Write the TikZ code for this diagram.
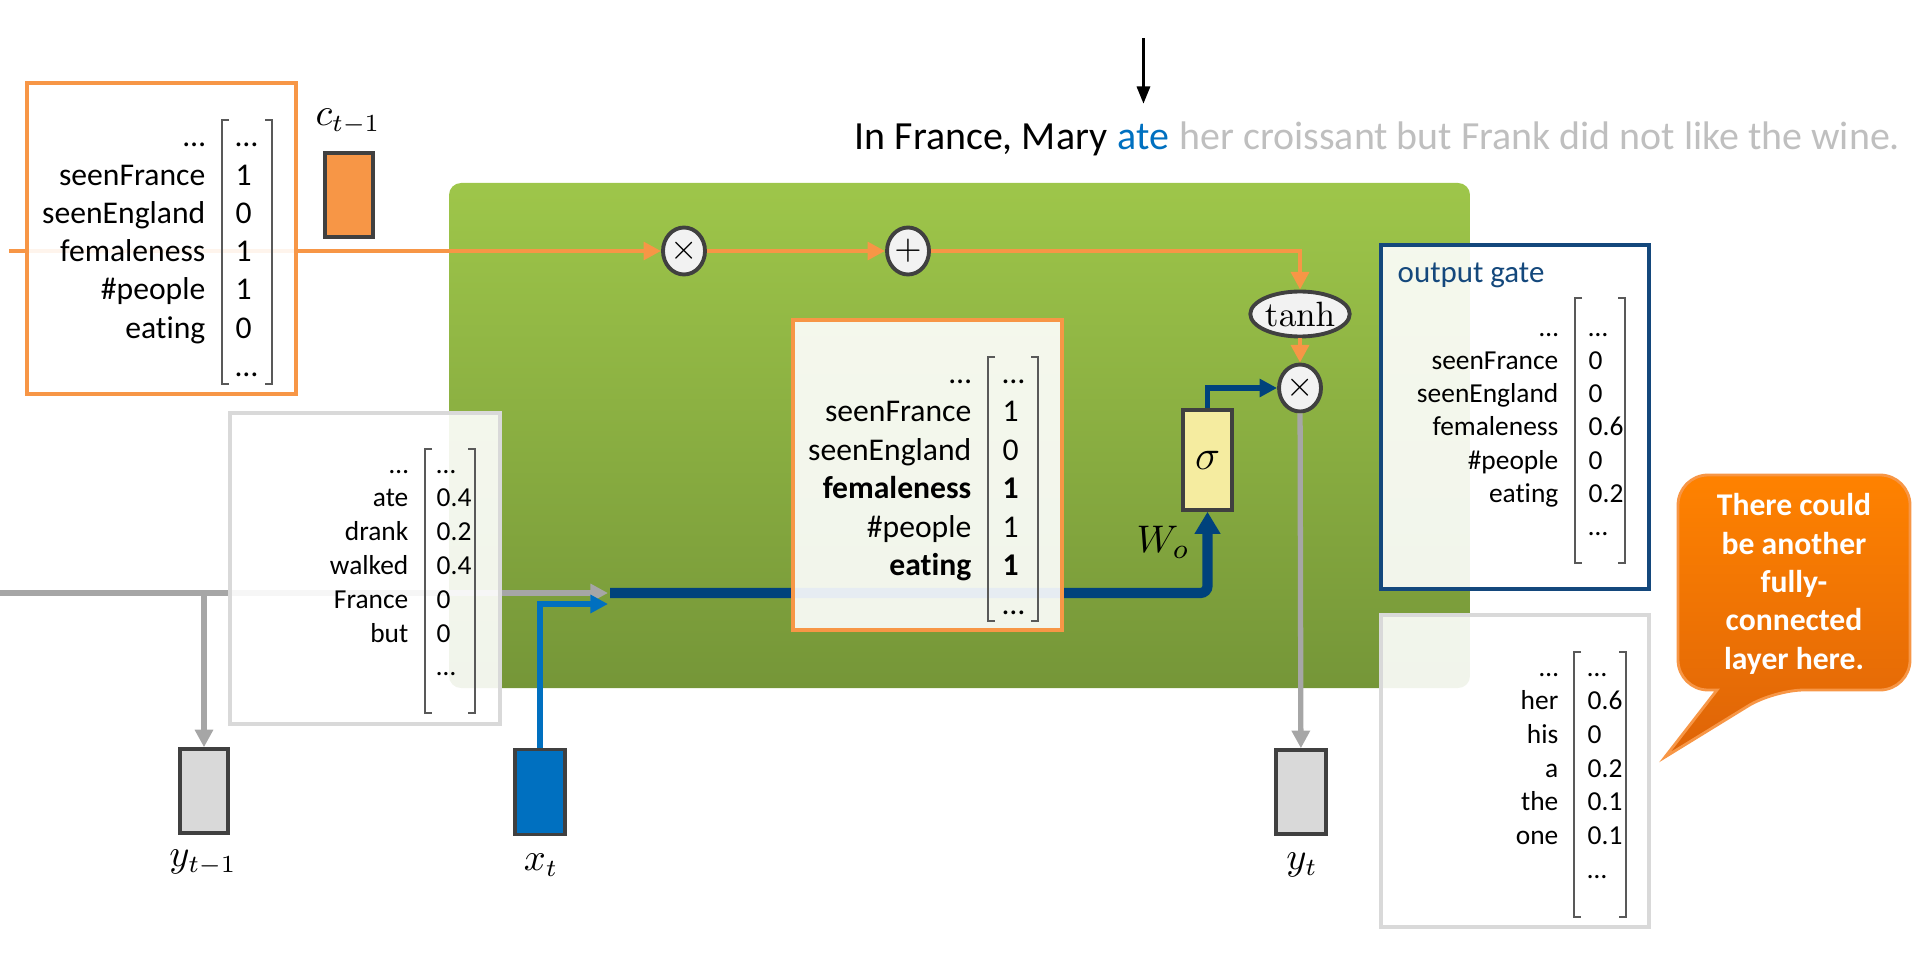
\documentclass[tikz,border=0pt]{standalone}
\usepackage[no-math]{fontspec}
\setmainfont{Carlito}[Ligatures=NoCommon]
\usetikzlibrary{positioning,arrows.meta,shapes.geometric}

\definecolor{lstmorange}{RGB}{247,150,70}
\definecolor{greentop}{RGB}{158,198,74}
\definecolor{greenbot}{RGB}{117,150,56}
\definecolor{darkframe}{RGB}{64,64,64}
\definecolor{linegray}{RGB}{166,166,166}
\definecolor{boxgray}{RGB}{217,217,217}
\definecolor{xblue}{RGB}{0,112,192}
\definecolor{wblue}{RGB}{0,66,124}
\definecolor{gateblue}{RGB}{20,72,124}
\definecolor{sigyellow}{RGB}{245,236,160}
\definecolor{opgray}{RGB}{242,242,242}
\definecolor{fadegray}{RGB}{191,191,191}
\definecolor{calltop}{RGB}{255,130,0}
\definecolor{callbot}{RGB}{222,100,8}
\definecolor{brkgray}{RGB}{89,89,89}

\begin{document}
\begin{tikzpicture}[
    unit/.style={draw=darkframe, line width=1pt, minimum width=0.48cm, minimum height=0.84cm, inner sep=0pt},
    op/.style={ellipse, draw=darkframe, fill=opgray, line width=1.1pt, minimum width=0.42cm, minimum height=0.47cm, inner sep=0pt, font=\fontsize{10}{10}\selectfont},
    vbox/.style={fill=white, fill opacity=0.9, line width=1pt, inner sep=0pt},
    lab/.style={anchor=base east, inner sep=0pt},
    val/.style={anchor=base west, inner sep=0pt},
    brk/.style={draw=brkgray, line width=0.6pt},
    mlab/.style={font=\fontsize{10.5}{12}\selectfont},
    sent/.style={inner sep=0pt, font=\fontsize{11.35}{13}\selectfont},
    calltext/.style={text=white, align=center, inner sep=0pt, font=\bfseries\fontsize{9}{10.9}\selectfont},
    carrow/.style={draw=lstmorange, line width=1.4pt, -{Triangle[length=5pt,width=5pt]}},
    garrow/.style={draw=linegray, line width=1.5pt, -{Triangle[length=5pt,width=5pt]}},
    xarrow/.style={draw=xblue, line width=1.5pt, -{Triangle[length=5pt,width=5pt]}},
    warrow/.style={draw=wblue, line width=1.5pt, -{Triangle[length=5pt,width=5pt]}},
    wthick/.style={draw=wblue, line width=2.9pt, rounded corners=2pt, -{Triangle[length=6.3pt,width=7pt]}}
  ]
    \useasboundingbox (0,0) rectangle (19.2,-9.73);

    % cell body
    \shade[top color=greentop, bottom color=greenbot, rounded corners=0.12cm] (4.49,-1.83) rectangle (14.70,-6.88);

    % units and operators
    \node[unit, fill=lstmorange] (cprev) at (3.49,-1.95) {};
    \node[mlab] (cprevlab) at (3.48,-1.22) {$c_{t-1}$};
    \node[unit, fill=boxgray] (yprev) at (2.04,-7.91) {};
    \node[mlab] (yprevlab) at (2.03,-8.63) {$y_{t-1}$};
    \node[unit, fill=xblue, minimum width=0.5cm, minimum height=0.85cm] (xt) at (5.40,-7.92) {};
    \node[mlab] (xtlab) at (5.41,-8.65) {$x_t$};
    \node[unit, fill=boxgray, minimum width=0.5cm] (yt) at (13.01,-7.92) {};
    \node[mlab] (ytlab) at (13.02,-8.65) {$y_t$};
    \node[unit, fill=sigyellow, minimum width=0.49cm, minimum height=1.0cm, font=\fontsize{12}{13}\selectfont] (sig) at (12.075,-4.60) {$\sigma$};
    \node[mlab, font=\fontsize{11}{12}\selectfont] (wlab) at (11.63,-5.42) {$W_o$};
    \node[op] (mul1) at (6.84,-2.51) {$\times$};
    \node[op] (add1) at (9.08,-2.51) {$+$};
    \node[op, minimum width=0.9cm, minimum height=0.45cm, font=\fontsize{9.8}{10}\selectfont] (tanh) at (13.00,-3.14) {$\tanh$};
    \node[op] (mul2) at (13.00,-3.88) {$\times$};

    \coordinate (cleft) at (0.09,-2.51);
    \coordinate (hleft) at (0,-5.93);
    \coordinate (gin) at (6.08,-5.93);
    \coordinate (merge) at (6.10,-5.93);
    \coordinate (xin) at (6.08,-6.04);

    % connectors
    \draw[carrow] (cleft) -- (mul1);
    \draw[carrow] (mul1) -- (add1);
    \draw[carrow] (add1) -| (tanh);
    \draw[carrow] (tanh) -- (mul2);
    \draw[garrow] (hleft) -- (gin);
    \draw[garrow] (yprev |- hleft) -- (yprev);
    \draw[xarrow] (xt) |- (xin);
    \draw[wthick] (merge) -| (sig);
    \draw[warrow] (sig) |- (mul2);
    \draw[garrow] (mul2) -- (yt);

    % vectors
    \node[vbox, draw=lstmorange, minimum width=2.69cm, minimum height=3.11cm] (cbox) at (1.615,-2.385) {};
    \node[vbox, draw=lstmorange, minimum width=2.69cm, minimum height=3.10cm] (hbox) at (9.275,-4.75) {};
    \node[vbox, draw=gateblue, line width=1.1pt, minimum width=2.68cm, minimum height=3.44cm] (gbox) at (15.15,-4.17) {};
    \node[vbox, draw=boxgray, line width=1.1pt, minimum width=2.68cm, minimum height=3.12cm] (pbox) at (15.15,-7.71) {};
    \node[vbox, draw=boxgray, line width=1.1pt, minimum width=2.70cm, minimum height=3.11cm] (xbox) at (3.65,-5.685) {};

    \begin{scope}[font=\fontsize{9}{11}\selectfont]
      \foreach \l/\v [count=\i] in {…/…, seenFrance/1, seenEngland/0, femaleness/1, \#people/1, eating/0, /…} {
        \node[lab] (cl\i) at (2.06,{-1.47-0.382*(\i-1)}) {\l};
        \node[val] (cv\i) at (2.35,{-1.47-0.382*(\i-1)}) {\v};
      }
      \foreach \l/\v [count=\i] in {…/…, seenFrance/1, seenEngland/0, \textbf{femaleness}/\textbf{1}, \#people/1, \textbf{eating}/\textbf{1}, /…} {
        \node[lab] (hl\i) at (9.72,{-3.83-0.385*(\i-1)}) {\l};
        \node[val] (hv\i) at (10.02,{-3.83-0.385*(\i-1)}) {\v};
      }
    \end{scope}
    \begin{scope}[font=\fontsize{7.8}{9}\selectfont]
      \foreach \l/\v [count=\i] in {…/…, seenFrance/0, seenEngland/0, femaleness/0.6, \#people/0, eating/0.2, /…} {
        \node[lab] (gl\i) at (15.59,{-3.36-0.333*(\i-1)}) {\l};
        \node[val] (gv\i) at (15.88,{-3.36-0.333*(\i-1)}) {\v};
      }
      \foreach \l/\v [count=\i] in {…/…, her/0.6, his/0, a/0.2, the/0.1, one/0.1, /…} {
        \node[lab] (pl\i) at (15.59,{-6.76-0.337*(\i-1)}) {\l};
        \node[val] (pv\i) at (15.87,{-6.76-0.337*(\i-1)}) {\v};
      }
      \foreach \l/\v [count=\i] in {…/…, ate/0.4, drank/0.2, walked/0.4, France/0, but/0, /…} {
        \node[lab] (xl\i) at (4.09,{-4.73-0.338*(\i-1)}) {\l};
        \node[val] (xv\i) at (4.36,{-4.73-0.338*(\i-1)}) {\v};
      }
    \end{scope}
    \node[anchor=base west, inner sep=0pt, text=gateblue, font=\fontsize{8.8}{10}\selectfont] (gtitle) at (13.97,-2.82) {output gate};

    % brackets
    \foreach \xa/\xb/\ya/\yb in {2.22/2.72/1.20/3.84, 9.88/10.38/3.57/6.21, 15.75/16.25/2.98/5.63, 15.74/16.26/6.52/9.17, 4.25/4.75/4.49/7.13} {
      \draw[brk] (\xa+0.07,-\ya) -- (\xa,-\ya) -- (\xa,-\yb) -- (\xa+0.07,-\yb);
      \draw[brk] (\xb-0.07,-\ya) -- (\xb,-\ya) -- (\xb,-\yb) -- (\xb-0.07,-\yb);
    }

    % sentence
    \node[sent, anchor=base west] (sfront) at (8.54,-1.50) {In France, Mary\kern0.226em};
    \node[sent, text=xblue, base right=0pt of sfront] (ate) {ate};
    \node[sent, text=fadegray, base right=0pt of ate] (srest) {\ her croissant but Frank did not like the wine.};
    \path (ate.north) ++(0,0.86) coordinate (wtop);
    \draw[line width=1.1pt, -{Triangle[length=5pt,width=3.6pt]}, shorten >=0.2cm] (wtop) -- (ate.north);

    % callout
    \shadedraw[draw=lstmorange, line width=0.8pt, top color=calltop, bottom color=callbot, rounded corners=0.3cm]
      (17.94,-4.75) -- (19.10,-4.75) -- (19.10,-6.90) -- (17.74,-6.90) [sharp corners] -- (16.65,-7.57)
      -- (17.17,-6.90) [rounded corners=0.3cm] -- (16.78,-6.90) -- (16.78,-4.75) -- cycle;
    \node[calltext] (callnote) at (17.94,-5.84) {There could\\be another\\fully-\\connected\\layer here.};
\end{tikzpicture}
\end{document}
